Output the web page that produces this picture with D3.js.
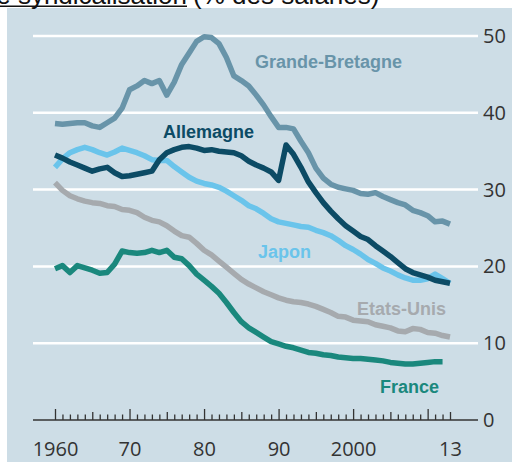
<!DOCTYPE html>
<html>
<head>
<meta charset="utf-8">
<script src="https://cdn.jsdelivr.net/npm/d3@7"></script>
<style>
  html, body { margin: 0; padding: 0; background: #ffffff; }
  svg { display: block; }
</style>
</head>
<body>
<svg id="chart" width="512" height="462"></svg>
<script>
// ---- data ----
const years = d3.range(1960, 2014);
const grandeBretagne = [38.6,38.5,38.6,38.7,38.7,38.3,38.1,38.7,39.3,40.6,43.0,43.5,44.2,43.8,44.2,42.3,44.0,46.3,47.8,49.3,49.9,49.8,49.0,47.2,44.8,44.2,43.5,42.3,41.0,39.5,38.1,38.1,37.9,36.3,34.8,32.8,31.5,30.7,30.3,30.1,29.9,29.5,29.4,29.6,29.1,28.7,28.3,28.0,27.3,27.0,26.6,25.8,25.9,25.5];
const allemagne = [34.5,34.1,33.6,33.2,32.8,32.4,32.7,32.9,32.2,31.7,31.8,32.0,32.2,32.4,33.9,34.8,35.2,35.5,35.6,35.4,35.1,35.2,35.0,34.9,34.8,34.4,33.7,33.2,32.8,32.3,31.2,35.8,34.6,32.9,31.0,29.6,28.3,27.2,26.2,25.3,24.6,23.9,23.5,22.7,22.0,21.3,20.5,19.7,19.2,18.9,18.6,18.2,18.0,17.8];
const japon = [32.9,34.0,34.8,35.2,35.5,35.2,34.8,34.5,34.9,35.4,35.1,34.8,34.4,33.9,33.8,33.8,33.0,32.3,31.6,31.1,30.8,30.6,30.3,29.8,29.2,28.6,27.9,27.5,26.9,26.2,25.8,25.6,25.4,25.2,25.1,24.7,24.4,24.0,23.4,22.7,22.2,21.6,20.9,20.4,19.8,19.4,18.9,18.5,18.2,18.2,18.4,19.0,18.4,17.8];
const etatsUnis = [30.9,29.9,29.2,28.8,28.5,28.3,28.2,27.9,27.8,27.4,27.3,27.0,26.4,26.0,25.8,25.3,24.6,24.0,23.8,23.0,22.1,21.5,20.7,19.9,19.1,18.3,17.7,17.2,16.7,16.3,15.9,15.6,15.4,15.3,15.1,14.8,14.4,14.0,13.5,13.4,13.0,12.9,12.8,12.4,12.2,12.0,11.6,11.5,11.9,11.8,11.4,11.3,11.0,10.8];
const france = [19.7,20.1,19.2,20.1,19.8,19.5,19.1,19.2,20.3,22.0,21.8,21.7,21.8,22.1,21.8,22.1,21.2,21.0,20.1,19.0,18.2,17.4,16.5,15.3,14.0,12.8,12.0,11.4,10.8,10.2,9.9,9.6,9.4,9.1,8.8,8.7,8.5,8.4,8.2,8.1,8.0,8.0,7.9,7.8,7.7,7.5,7.4,7.3,7.3,7.4,7.5,7.6,7.6];
const seriesNames = ["Grande-Bretagne", "Allemagne", "Japon", "Etats-Unis", "France"];
const yTicks = [0, 10, 20, 30, 40, 50];
const xLabelYears = [1960, 1970, 1980, 1990, 2000, 2013];
const xLabelTexts = ["1960", "70", "80", "90", "2000", "13"];
const titleMain = "Taux de syndicalisation";
const titleUnit = "(% des salariés)";

// ---- styles / layout ----
const colors = {
  "Grande-Bretagne": "#6894a9",
  "Allemagne": "#0c4b65",
  "Japon": "#6ac4eb",
  "Etats-Unis": "#a6aaae",
  "France": "#1a887d"
};
const labelPos = {
  "Grande-Bretagne": {x: 255, y: 68},
  "Allemagne": {x: 163, y: 138},
  "Japon": {x: 258, y: 258},
  "Etats-Unis": {x: 357, y: 315},
  "France": {x: 380, y: 393}
};

const svg = d3.select("#chart");
const W = 512, H = 462;
const panel = {x: 7, y: 8};
const gridX0 = 33, gridX1 = 478;

svg.append("rect").attr("x", panel.x).attr("y", panel.y)
  .attr("width", W - panel.x).attr("height", H - panel.y)
  .attr("fill", "#cddde6");

const x = d3.scaleLinear().domain([1960, 2013]).range([55, 450]);
const y = d3.scaleLinear().domain([0, 50]).range([420, 36]);

// title (partly above the visible area, as in the reference)
svg.append("text").attr("x", 187).attr("y", 4)
  .attr("text-anchor", "end")
  .attr("font-family", "Liberation Sans, Arial, sans-serif")
  .attr("font-size", 26).attr("fill", "#111")
  .text(titleMain);
svg.append("line").attr("x1", 0).attr("x2", 187).attr("y1", 6.3).attr("y2", 6.3)
  .attr("stroke", "#111").attr("stroke-width", 1.6);
svg.append("text").attr("x", 193).attr("y", 4)
  .attr("font-family", "Liberation Sans, Arial, sans-serif")
  .attr("font-size", 26).attr("fill", "#111")
  .text(titleUnit);

// gridlines
svg.append("g").selectAll("line").data(yTicks.filter(d => d > 0)).join("line")
  .attr("x1", gridX0).attr("x2", gridX1)
  .attr("y1", d => y(d)).attr("y2", d => y(d))
  .attr("stroke", "#ffffff").attr("stroke-width", 2.5);

// right axis labels
const yAxis = d3.axisRight(y).tickValues(yTicks).tickSize(0).tickPadding(5)
  .tickFormat(d3.format("d"));
const gy = svg.append("g").attr("transform", `translate(${gridX1},0)`).call(yAxis);
gy.select(".domain").remove();
gy.selectAll("text").attr("font-family", "Open Sans, sans-serif")
  .attr("font-size", 20).attr("fill", "#333");

// x baseline
svg.append("line").attr("x1", gridX0).attr("x2", gridX1)
  .attr("y1", y(0)).attr("y2", y(0))
  .attr("stroke", "#333").attr("stroke-width", 1.5);

// x axis ticks
const xAxis = d3.axisBottom(x).tickValues(years).tickSize(-6).tickPadding(22)
  .tickFormat(d => { const i = xLabelYears.indexOf(d); return i >= 0 ? xLabelTexts[i] : ""; });
const gx = svg.append("g").attr("transform", `translate(0,${y(0)})`).call(xAxis);
gx.select(".domain").remove();
gx.selectAll(".tick line")
  .attr("stroke", "#333").attr("stroke-width", 1.3)
  .attr("y2", d => d % 10 === 0 ? -11 : (d % 5 === 0 || d === 2013 ? -8 : -5.5));
gx.selectAll("text").attr("font-family", "Open Sans, sans-serif")
  .attr("font-size", 20).attr("fill", "#333");

// lines
const seriesData = {
  "Grande-Bretagne": grandeBretagne,
  "Allemagne": allemagne,
  "Japon": japon,
  "Etats-Unis": etatsUnis,
  "France": france
};
const line = d3.line().x(d => x(d[0])).y(d => y(d[1]));
const drawOrder = ["Etats-Unis", "France", "Grande-Bretagne", "Japon", "Allemagne"];
drawOrder.forEach(name => {
  const pts = seriesData[name].map((v, i) => [years[i], v]);
  svg.append("path").datum(pts)
    .attr("d", line)
    .attr("fill", "none")
    .attr("stroke", colors[name])
    .attr("stroke-width", 5.5)
    .attr("stroke-linejoin", "round");
});

// series labels
seriesNames.forEach(name => {
  svg.append("text").attr("x", labelPos[name].x).attr("y", labelPos[name].y)
    .attr("font-family", "Liberation Sans, Arial, sans-serif")
    .attr("font-weight", "bold").attr("font-size", 18)
    .attr("fill", colors[name])
    .text(name);
});
</script>
</body>
</html>
